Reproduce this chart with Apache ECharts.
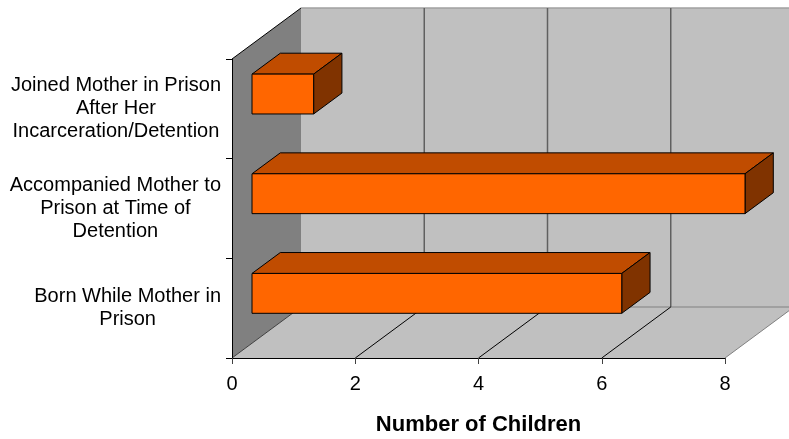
<!DOCTYPE html>
<html><head><meta charset="utf-8">
<script src="https://cdn.jsdelivr.net/npm/echarts@6/dist/echarts.min.js"></script>
<style>html,body{margin:0;padding:0;background:#fff}#c{width:789px;height:439px}</style>
</head><body><div id="c"></div>
<script>
const categories = [
  'Joined Mother in Prison\nAfter Her\nIncarceration/Detention',
  'Accompanied Mother to\nPrison at Time of\nDetention',
  'Born While Mother in\nPrison'
];
const children = [1, 8, 6];
const xTicks = [0, 2, 4, 6, 8];
const axisTitle = 'Number of Children';

const FONT = '"Liberation Sans", Arial, sans-serif';
const DEPTH = [69, -51];
const BAR_FRONT = 0.29, BAR_BACK = 0.70, BAR_WIDTH = 0.4;

const chart = echarts.init(document.getElementById('c'), null, {renderer: 'canvas'});

function frameItem(params, api) {
  const cs = params.coordSys;
  const x0 = cs.x, x1 = cs.x + cs.width, y0 = cs.y, y1 = cs.y + cs.height;
  const dx = DEPTH[0], dy = DEPTH[1];
  const els = [];
  els.push({type: 'polygon', shape: {points: [[x0 + dx, y0 + dy], [x1 + dx, y0 + dy], [x1 + dx, y1 + dy], [x0 + dx, y1 + dy]]}, style: {fill: '#C0C0C0'}});
  els.push({type: 'polygon', shape: {points: [[x0, y1], [x1, y1], [x1 + dx, y1 + dy], [x0 + dx, y1 + dy]]}, style: {fill: '#C0C0C0'}});
  els.push({type: 'polygon', shape: {points: [[x0, y0], [x0 + dx, y0 + dy], [x0 + dx, y1 + dy], [x0, y1]]}, style: {fill: '#808080'}});
  els.push({type: 'line', shape: {x1: x0 + dx, y1: y0 + dy, x2: x1 + dx, y2: y0 + dy}, style: {stroke: '#A0A0A0', lineWidth: 1.5}});
  els.push({type: 'line', shape: {x1: x0 + dx, y1: y1 + dy, x2: x1 + dx, y2: y1 + dy}, style: {stroke: '#808080', lineWidth: 1}});
  xTicks.forEach((t, i) => {
    const px = api.coord([t, 0])[0];
    if (i > 0) {
      els.push({type: 'line', shape: {x1: px + dx, y1: y0 + dy, x2: px + dx, y2: y1 + dy}, style: {stroke: '#606060', lineWidth: 1.5}});
      els.push({type: 'line', shape: {x1: px, y1: y1, x2: px + dx, y2: y1 + dy}, style: {stroke: i === xTicks.length - 1 ? '#808080' : '#000', lineWidth: 1}});
    }
  });
  els.push({type: 'line', shape: {x1: x0, y1: y0, x2: x0 + dx, y2: y0 + dy}, style: {stroke: '#000', lineWidth: 1}});
  els.push({type: 'line', shape: {x1: x0, y1: y1, x2: x0 + dx, y2: y1 + dy}, style: {stroke: '#404040', lineWidth: 1}});
  return {type: 'group', children: els};
}

function barItem(params, api) {
  const v = api.value(0), c = api.value(1);
  const p0 = api.coord([0, c]), p1 = api.coord([v, c]);
  const band = api.size([0, 1])[1];
  const h = band * BAR_WIDTH;
  const fx = DEPTH[0] * BAR_FRONT, fy = DEPTH[1] * BAR_FRONT;
  const ddx = DEPTH[0] * (BAR_BACK - BAR_FRONT), ddy = DEPTH[1] * (BAR_BACK - BAR_FRONT);
  const L = p0[0] + fx, R = p1[0] + fx, T = p0[1] + fy - h / 2, B = T + h;
  return {type: 'group', children: [
    {type: 'polygon', shape: {points: [[L, T], [R, T], [R + ddx, T + ddy], [L + ddx, T + ddy]]}, style: {fill: '#C04C00', stroke: '#000', lineWidth: 1}},
    {type: 'polygon', shape: {points: [[R, T], [R + ddx, T + ddy], [R + ddx, B + ddy], [R, B]]}, style: {fill: '#803300', stroke: '#000', lineWidth: 1}},
    {type: 'rect', shape: {x: L, y: T, width: R - L, height: h}, style: {fill: '#FF6600', stroke: '#000', lineWidth: 1}}
  ]};
}

chart.setOption({
  animation: false,
  backgroundColor: '#fff',
  grid: {left: 232, right: 64, top: 59, bottom: 81, containLabel: false, outerBoundsMode: 'none'},
  xAxis: {
    type: 'value', min: 0, max: 8, interval: 2, z: 10,
    axisLine: {show: true, lineStyle: {color: '#000', width: 1}},
    axisTick: {show: true, length: 6, lineStyle: {color: '#404040'}},
    axisLabel: {fontSize: 20, color: '#000', fontFamily: FONT, margin: 16},
    splitLine: {show: false},
    name: axisTitle, nameLocation: 'middle', nameGap: 56,
    nameTextStyle: {fontSize: 22, fontWeight: 'bold', color: '#000', fontFamily: FONT}
  },
  yAxis: {
    type: 'category', data: categories, inverse: true, z: 10,
    axisLine: {show: true, lineStyle: {color: '#000', width: 1}},
    axisTick: {show: true, length: 6, lineStyle: {color: '#000'}},
    splitLine: {show: false},
    axisLabel: {
      margin: 11, align: 'right', color: '#000', fontFamily: FONT, fontSize: 20, lineHeight: 23,
      formatter: v => v.split('\n').map(s => '{c|' + s + '}').join('\n'),
      rich: {c: {align: 'center', fontSize: 20, lineHeight: 23, fontFamily: FONT, color: '#000'}}
    }
  },
  series: [
    {type: 'custom', name: 'frame', renderItem: frameItem, data: [[0, 0]], clip: false, z: 1, silent: true},
    {type: 'custom', name: 'children', renderItem: barItem, data: children.map((v, i) => [v, i]), clip: false, z: 3,
     encode: {x: 0, y: 1}}
  ]
});
</script>
</body></html>
